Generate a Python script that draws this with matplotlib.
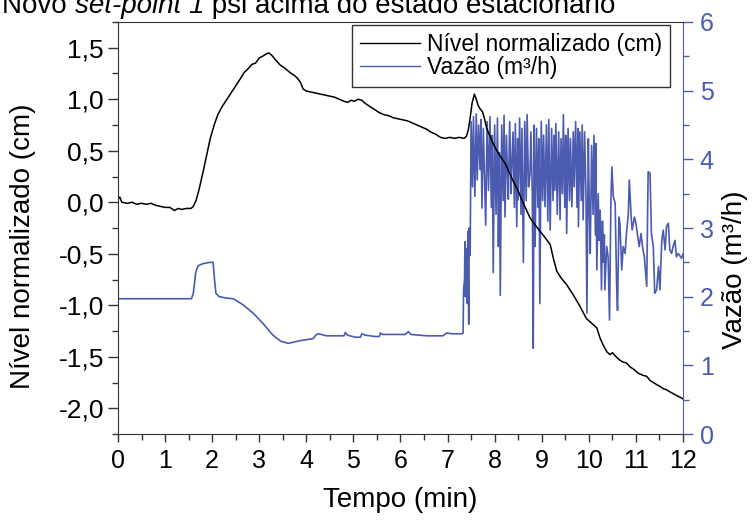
import matplotlib
matplotlib.use("Agg")
import matplotlib.pyplot as plt
from matplotlib.ticker import MultipleLocator, FuncFormatter

plt.rcParams["font.family"] = ["Liberation Sans", "DejaVu Sans"]

# Nível normalizado (cm) x tempo (min)
nivel_t = [0.00, 0.04, 0.08, 0.20, 0.30, 0.40, 0.50, 0.60, 0.70, 0.80,
           0.90, 1.00, 1.10, 1.20, 1.28, 1.35, 1.45, 1.55, 1.60, 1.66,
           1.72, 1.80, 1.88, 1.96, 2.05, 2.12, 2.20, 2.30, 2.40, 2.50,
           2.60, 2.68, 2.75, 2.85, 2.92, 3.00, 3.08, 3.15, 3.20, 3.26,
           3.35, 3.45, 3.52, 3.60, 3.68, 3.75, 3.82, 3.88, 3.93, 4.00,
           4.10, 4.20, 4.30, 4.40, 4.50, 4.60, 4.70, 4.80, 4.88, 4.95,
           5.02, 5.10, 5.18, 5.25, 5.35, 5.45, 5.55, 5.65, 5.75, 5.85,
           5.95, 6.05, 6.15, 6.25, 6.35, 6.45, 6.55, 6.65, 6.75, 6.85,
           6.95, 7.05, 7.15, 7.25, 7.35, 7.40, 7.44, 7.48, 7.52, 7.57,
           7.61, 7.65, 7.70, 7.74, 7.78, 7.83, 7.90, 8.01, 8.10, 8.22,
           8.30, 8.40, 8.50, 8.57, 8.65, 8.75, 8.86, 8.96, 9.05, 9.18,
           9.25, 9.32, 9.42, 9.53, 9.60, 9.67, 9.80, 9.88, 9.95, 10.05,
           10.17, 10.24, 10.32, 10.38, 10.45, 10.50, 10.58, 10.65, 10.72, 10.80,
           10.88, 10.95, 11.05, 11.15, 11.23, 11.30, 11.37, 11.44, 11.52, 11.58,
           11.65, 11.72, 11.80, 11.88, 11.97, 12.00]
nivel = [0.03, 0.05, 0.00, -0.01, 0.00, -0.02, -0.01, -0.02, -0.01, -0.03,
         -0.04, -0.05, -0.05, -0.08, -0.06, -0.07, -0.06, -0.06, -0.04, 0.02,
         0.12, 0.28, 0.45, 0.62, 0.76, 0.85, 0.92, 0.99, 1.06, 1.13,
         1.20, 1.26, 1.29, 1.34, 1.35, 1.40, 1.42, 1.44, 1.45, 1.43,
         1.38, 1.33, 1.31, 1.28, 1.25, 1.23, 1.20, 1.16, 1.10, 1.08,
         1.07, 1.06, 1.05, 1.04, 1.03, 1.02, 1.00, 0.98, 0.97, 0.99,
         0.98, 1.00, 0.99, 0.96, 0.93, 0.90, 0.87, 0.85, 0.84, 0.82,
         0.81, 0.80, 0.79, 0.77, 0.75, 0.73, 0.71, 0.68, 0.66, 0.63,
         0.62, 0.63, 0.62, 0.63, 0.62, 0.64, 0.70, 0.82, 0.96, 1.05,
         1.00, 0.94, 0.90, 0.88, 0.82, 0.72, 0.64, 0.53, 0.46, 0.38,
         0.30, 0.20, 0.11, 0.03, -0.05, -0.15, -0.22, -0.28, -0.33, -0.41,
         -0.55, -0.67, -0.74, -0.80, -0.85, -0.90, -1.00, -1.07, -1.13, -1.17,
         -1.22, -1.32, -1.40, -1.45, -1.48, -1.46, -1.50, -1.53, -1.55, -1.56,
         -1.60, -1.62, -1.66, -1.68, -1.69, -1.73, -1.75, -1.77, -1.79, -1.81,
         -1.82, -1.84, -1.86, -1.88, -1.90, -1.91]

# Vazão (m³/h) x tempo (min)
vazao_t = [0.00, 1.56, 1.60, 1.65, 1.70, 1.80, 1.95, 2.02, 2.05, 2.08,
           2.15, 2.30, 2.45, 2.66, 2.87, 3.08, 3.29, 3.46, 3.62, 3.87,
           4.15, 4.20, 4.26, 4.43, 4.80, 4.83, 4.87, 5.04, 5.15, 5.18,
           5.25, 5.46, 5.55, 5.57, 5.62, 6.10, 6.17, 6.22, 6.40, 6.56,
           6.90, 6.98, 7.10, 7.30, 7.33,
           7.34, 7.36, 7.37, 7.38, 7.40, 7.41, 7.42, 7.43, 7.45, 7.46,
           7.48, 7.50, 7.53, 7.55, 7.58, 7.61, 7.63, 7.66, 7.69, 7.71,
           7.73, 7.76, 7.79, 7.81, 7.84, 7.87, 7.90, 7.93, 7.95, 7.97,
           8.00, 8.03, 8.06, 8.08, 8.10, 8.12, 8.15, 8.18, 8.20, 8.22,
           8.25, 8.28, 8.29, 8.32, 8.35, 8.36, 8.39, 8.42, 8.44, 8.47,
           8.49, 8.50, 8.53, 8.56, 8.58, 8.61, 8.64, 8.67, 8.69, 8.72,
           8.75, 8.77, 8.80, 8.82, 8.84, 8.86, 8.89, 8.92, 8.94, 8.96,
           8.99, 9.02, 9.04, 9.07, 9.10, 9.13, 9.15, 9.18, 9.21, 9.24,
           9.26, 9.28, 9.30, 9.33, 9.36, 9.39, 9.41, 9.44, 9.46, 9.49,
           9.51, 9.53, 9.56, 9.59, 9.61, 9.64, 9.67, 9.69, 9.72, 9.75,
           9.77, 9.78, 9.81, 9.84, 9.86, 9.88, 9.91, 9.94, 9.96, 9.99,
           10.01, 10.03, 10.06, 10.09, 10.11, 10.14, 10.15, 10.17, 10.20, 10.22,
           10.24, 10.27, 10.29, 10.31, 10.33, 10.34,
           10.38, 10.41, 10.44, 10.47, 10.49, 10.52, 10.56, 10.59, 10.61, 10.64,
           10.66, 10.70, 10.73, 10.77, 10.80, 10.84, 10.86, 10.90, 10.92, 10.97,
           11.00, 11.04, 11.07, 11.11, 11.14, 11.18, 11.23, 11.26, 11.30, 11.33,
           11.37, 11.40, 11.44, 11.48, 11.51, 11.55, 11.58, 11.62, 11.65, 11.69,
           11.72, 11.76, 11.79, 11.83, 11.86, 11.90, 11.93, 11.97, 12.00]
vazao = [1.97, 1.97, 2.05, 2.35, 2.45, 2.48, 2.50, 2.50, 2.25, 2.05,
         2.00, 1.98, 1.97, 1.88, 1.76, 1.61, 1.44, 1.35, 1.32, 1.36,
         1.39, 1.44, 1.46, 1.43, 1.43, 1.48, 1.44, 1.41, 1.41, 1.46,
         1.44, 1.42, 1.42, 1.47, 1.45, 1.45, 1.49, 1.45, 1.44, 1.43,
         1.43, 1.47, 1.46, 1.46, 1.47,
         2.10, 2.25, 2.80, 2.00, 2.70, 2.30, 1.90, 2.95, 1.60, 3.00,
         2.60, 4.55, 3.60, 4.62, 3.46, 4.66, 3.70, 4.50, 3.85, 4.58,
         3.29, 4.45, 3.60, 3.04, 4.55, 3.55, 4.62, 3.30, 4.35, 2.35,
         4.50, 3.20, 4.60, 2.73, 4.10, 2.02, 4.50, 3.40, 4.64, 3.16,
         4.35, 3.60, 3.42, 4.55, 3.50, 3.77, 4.40, 3.30, 4.52, 3.02,
         4.30, 3.41, 4.60, 3.20, 4.45, 2.50, 4.55, 3.40, 4.65, 3.60,
         3.78, 4.40, 3.50, 1.25, 4.50, 2.73, 4.45, 3.30, 4.30, 1.90,
         4.55, 3.40, 4.35, 3.31, 4.50, 3.10, 4.58, 2.97, 4.45, 3.40,
         4.35, 3.55, 4.52, 3.20, 4.40, 3.12, 4.30, 3.50, 4.65, 3.30,
         4.35, 2.92, 4.45, 3.40, 4.30, 3.31, 4.40, 3.60, 4.55, 3.30,
         4.45, 3.02, 4.40, 3.40, 4.50, 3.12, 4.40, 3.50, 1.76, 4.30,
         3.30, 2.63, 4.20, 3.20, 4.35, 2.90, 4.23, 2.39, 3.50, 2.82,
         3.26, 2.10, 3.10, 2.50, 2.90, 2.10,
         2.73, 2.58, 1.66, 3.41, 3.89, 3.46, 3.36, 2.19, 1.80, 3.16,
         3.07, 2.39, 2.73, 2.63, 2.92, 3.21, 3.70, 3.16, 2.97, 3.16,
         3.07, 2.87, 2.73, 2.92, 2.73, 2.58, 2.15, 3.82, 3.80, 2.92,
         2.73, 2.05, 2.10, 2.44, 2.10, 2.82, 2.97, 2.68, 3.02, 3.07,
         2.68, 2.63, 2.73, 2.82, 2.58, 2.63, 2.60, 2.56, 2.62]

x_ticks = list(range(0, 13))
azul = "#4b5bb0"
cinza = "#333333"


def virgula(v, pos):
    return f"{v:.1f}".replace(".", ",")


fig = plt.figure(figsize=(7.52, 5.25), dpi=100)
ax = fig.add_axes([0.1569, 0.1733, 0.7513, 0.7848])
ax2 = ax.twinx()

l1, = ax.plot(nivel_t, nivel, color="black", lw=1.1, label="Nível normalizado (cm)")
l2, = ax2.plot(vazao_t, vazao, color=azul, lw=1.2, label="Vazão (m³/h)")

# black curve above the blue one
ax.set_zorder(ax2.get_zorder() + 1)
ax.patch.set_visible(False)

ax.set_xlim(0, 12)
ax.set_ylim(-2.25, 1.75)
ax2.set_ylim(0, 6)

ax.set_xticks(x_ticks)
ax.xaxis.set_minor_locator(MultipleLocator(0.5))
ax.yaxis.set_major_locator(MultipleLocator(0.5))
ax.yaxis.set_minor_locator(MultipleLocator(0.25))
ax.yaxis.set_major_formatter(FuncFormatter(virgula))
ax2.yaxis.set_major_locator(MultipleLocator(1))
ax2.yaxis.set_minor_locator(MultipleLocator(0.5))

for s in ["left", "bottom", "top"]:
    ax.spines[s].set_color(cinza)
ax.spines["right"].set_visible(False)
for s in ["left", "bottom", "top"]:
    ax2.spines[s].set_visible(False)
ax2.spines["right"].set_color(azul)

ax.tick_params(axis="x", which="major", direction="out", length=6, width=1,
               color=cinza, labelsize=18, pad=5)
ax.tick_params(axis="x", which="minor", direction="out", length=4, width=1, color=cinza)
ax.tick_params(axis="y", which="major", direction="out", length=7, width=1,
               color=cinza, labelsize=19, pad=3)
ax.tick_params(axis="y", which="minor", direction="out", length=4, width=1, color=cinza)
ax2.tick_params(axis="y", which="major", direction="out", length=7, width=1,
                color=azul, labelcolor=azul, labelsize=18, pad=5)
ax2.tick_params(axis="y", which="minor", direction="out", length=4, width=1, color=azul)

ax.set_xlabel("Tempo (min)", fontsize=20)
ax.xaxis.label.set_va("center")
ax.xaxis.set_label_coords(0.5, -0.160)
ax.set_ylabel("Nível normalizado (cm)", fontsize=20)
ax.yaxis.label.set_va("center")
ax.yaxis.set_label_coords(-0.168, 0.456)
ax2.set_ylabel("Vazão (m³/h)", fontsize=20)
ax2.yaxis.label.set_va("center")
ax2.yaxis.set_label_coords(1.092, 0.398)

leg = ax.legend(handles=[l1, l2], loc="upper right", bbox_to_anchor=(0.977, 0.993),
                borderaxespad=0, fancybox=False, framealpha=1, edgecolor=cinza,
                fontsize=16.5, handlelength=2.6, handletextpad=0.3,
                labelspacing=0.02, borderpad=0.35)
leg.get_frame().set_linewidth(1.0)
for h in leg.legend_handles:
    h.set_linewidth(1.0)

# title, partly outside the canvas at the top
t1 = fig.text(0.003, 1 - 13 / 525, "Novo ", fontsize=20, va="baseline")
t2 = ax.annotate("set-point 1", xy=(1, 0), xycoords=t1, va="bottom",
                 fontsize=20, style="italic", annotation_clip=False)
ax.annotate(" psi acima do estado estacionário", xy=(1, 0), xycoords=t2,
            va="bottom", fontsize=20, annotation_clip=False)

fig.savefig("out.png", dpi=100)
